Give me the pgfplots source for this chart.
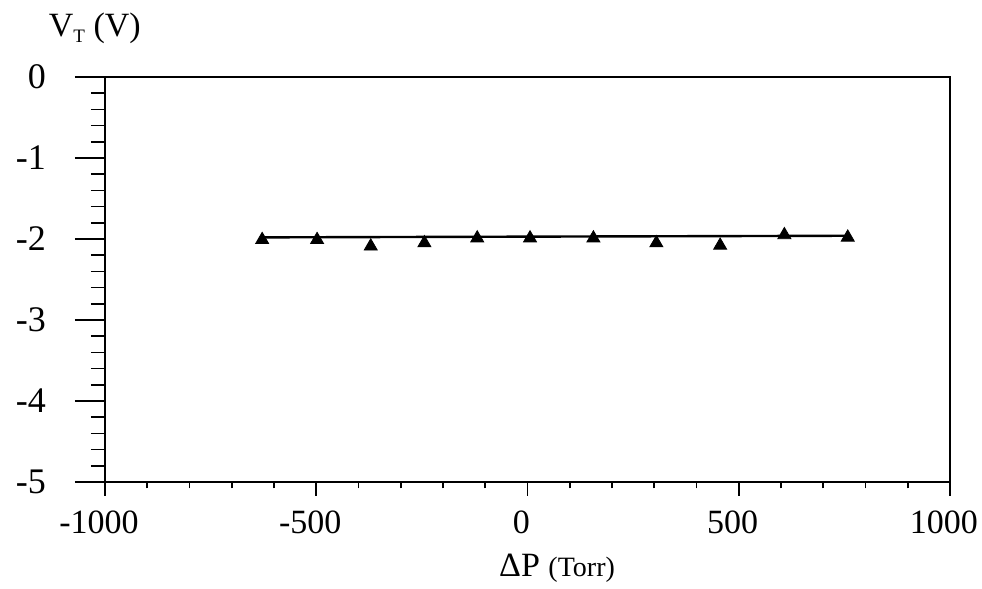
\documentclass[border=0pt]{standalone}
\usepackage{fontspec}
\setmainfont{Liberation Serif}
\usepackage{pgfplots}
\pgfplotsset{compat=1.18}
\pgfplotstableread{
x y
-628 -2.01
-498 -2.01
-371 -2.09
-244 -2.05
-119 -1.99
6 -1.99
156 -1.99
305 -2.05
456 -2.08
608 -1.95
758 -1.98
}\vtdata
\pgfplotstableread{
x y
-628 -1.98
758 -1.96
}\fitdata
\begin{document}
\begin{tikzpicture}
\path[use as bounding box] (-52.5pt,-53.5pt) rectangle (438.5pt,241pt);
\begin{axis}[at={(0,0)}, anchor=south west, scale only axis,
  width=422.5pt, height=202.5pt,
  xmin=-1000, xmax=1000, ymin=-5, ymax=0,
  axis line style={line width=0.9pt},
  xtick=\empty,
  ytick={-5,-4,-3,-2,-1,0}, yticklabels={-5,-4,-3,-2,-1,0},
  minor y tick num=4,
  ytick pos=left, tick align=outside,
  major tick length=15pt, minor tick length=7pt,
  tick style={line width=0.8pt, black},
  yticklabel style={font=\fontsize{18}{20}\selectfont, anchor=east, xshift=-11pt},
  clip=false,
]
\node[anchor=base, font=\fontsize{17}{19}\selectfont] at (axis description cs:-0.012,1.099) {V\raisebox{-0.35ex}{\fontsize{9.5}{10}\selectfont T} (V)};
\node[anchor=base] at (axis description cs:0.535,0) [yshift=-47.5pt] {\fontsize{17}{19}\selectfont ΔP \fontsize{14}{16}\selectfont(Torr)};
\end{axis}
\begin{axis}[at={(0,0)}, anchor=south west, scale only axis,
  width=422.5pt, height=202.5pt,
  xmin=-1000, xmax=1000, ymin=-5, ymax=0,
  axis line style={draw=none},
  ytick=\empty,
  xtick={-1000,-500,0,500,1000}, xticklabels={-1000,-500,0,500,1000},
  minor x tick num=4,
  xtick pos=bottom, tick align=outside,
  major tick length=7pt, minor tick length=3.25pt,
  tick style={line width=0.8pt, black},
  xticklabel style={font=\fontsize{17}{19}\selectfont, anchor=north, xshift=-3pt, yshift=-4pt},
  clip=false,
]
\addplot[black, line width=1.2pt] table[x=x, y=y] {\fitdata};
\addplot[only marks, mark=triangle*, mark size=3.75pt, mark options={black, fill=black}] table[x=x, y=y] {\vtdata};
\end{axis}
\end{tikzpicture}
\end{document}
